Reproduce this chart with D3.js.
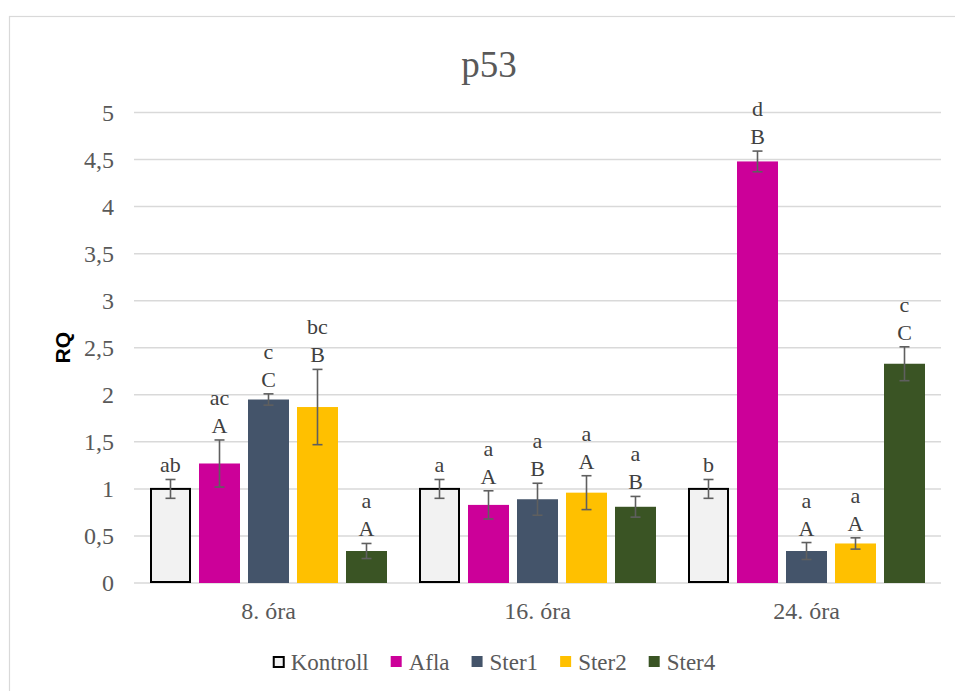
<!DOCTYPE html>
<html lang="en">
<head>
<meta charset="UTF-8">
<title>p53</title>
<style>
    body, html { margin: 0; padding: 0; background: #ffffff; }
    svg { display: block; font-family: "Liberation Serif", "Times New Roman", serif; }
    .grid line { stroke: #d9d9d9; stroke-width: 1.5px; }
    .tick-label { fill: #595959; font-size: 24px; }
    .cat-label { fill: #595959; font-size: 24px; }
    .bar-label { fill: #404040; font-size: 22px; text-anchor: middle; }
    .err { stroke: #5f5f5f; stroke-width: 1.6px; }
    .legend text { fill: #595959; font-size: 23px; }
</style>
</head>
<body>
<div id="chart"></div>
<script src="https://d3js.org/d3.v7.min.js"></script>
<script>
// --- data ---
const categories = ["8. óra", "16. óra", "24. óra"];
const seriesNames = ["Kontroll", "Afla", "Ster1", "Ster2", "Ster4"];
const seriesColors = ["#f2f2f2", "#cc0099", "#44546a", "#ffc000", "#3a5424"];

const kontrollRQ = [1.00, 1.00, 1.00];
const aflaRQ     = [1.27, 0.83, 4.48];
const ster1RQ    = [1.95, 0.89, 0.34];
const ster2RQ    = [1.87, 0.96, 0.42];
const ster4RQ    = [0.34, 0.81, 2.33];

const kontrollErr = [0.10, 0.10, 0.10];
const aflaErr     = [0.25, 0.15, 0.11];
const ster1Err    = [0.06, 0.17, 0.09];
const ster2Err    = [0.40, 0.18, 0.06];
const ster4Err    = [0.08, 0.11, 0.18];

const kontrollLower = ["ab", "a", "b"];
const aflaLower     = ["ac", "a", "d"];
const ster1Lower    = ["c", "a", "a"];
const ster2Lower    = ["bc", "a", "a"];
const ster4Lower    = ["a", "a", "c"];

const kontrollUpper = ["", "", ""];
const aflaUpper     = ["A", "A", "B"];
const ster1Upper    = ["C", "B", "A"];
const ster2Upper    = ["B", "A", "A"];
const ster4Upper    = ["A", "B", "C"];

const yTicks = [0, 0.5, 1, 1.5, 2, 2.5, 3, 3.5, 4, 4.5, 5];

// build rows for drawing
const allRQ = [kontrollRQ, aflaRQ, ster1RQ, ster2RQ, ster4RQ];
const allErr = [kontrollErr, aflaErr, ster1Err, ster2Err, ster4Err];
const allLower = [kontrollLower, aflaLower, ster1Lower, ster2Lower, ster4Lower];
const allUpper = [kontrollUpper, aflaUpper, ster1Upper, ster2Upper, ster4Upper];

const bars = [];
categories.forEach((cat, ci) => {
    seriesNames.forEach((s, si) => {
        bars.push({
            cat: cat, series: s, si: si,
            value: allRQ[si][ci], err: allErr[si][ci],
            lower: allLower[si][ci], upper: allUpper[si][ci]
        });
    });
});

// --- layout ---
const width = 955, height = 691;
const plot = { left: 134, right: 941, top: 112.5, bottom: 583 };

const svg = d3.select("#chart").append("svg")
    .attr("width", width)
    .attr("height", height);

// chart border
svg.append("rect")
    .attr("x", 9.5).attr("y", 16.5)
    .attr("width", 980).attr("height", 700)
    .attr("fill", "#ffffff")
    .attr("stroke", "#d9d9d9")
    .attr("stroke-width", 1.2);

const x0 = d3.scaleBand()
    .domain(categories)
    .range([plot.left, plot.right])
    .padding(0);

const x1 = d3.scaleBand()
    .domain(seriesNames)
    .range([12, x0.bandwidth() - 12])
    .paddingInner(8 / 49)
    .paddingOuter(4 / 49);

const y = d3.scaleLinear()
    .domain([0, 5])
    .range([plot.bottom, plot.top]);

const color = d3.scaleOrdinal().domain(seriesNames).range(seriesColors);
const fmt = v => String(v).replace(".", ",");

// gridlines
svg.append("g").attr("class", "grid")
    .selectAll("line")
    .data(yTicks)
    .join("line")
    .attr("x1", plot.left).attr("x2", plot.right)
    .attr("y1", d => y(d)).attr("y2", d => y(d));

// y tick labels
svg.append("g")
    .selectAll("text")
    .data(yTicks)
    .join("text")
    .attr("class", "tick-label")
    .attr("x", 114)
    .attr("y", d => y(d))
    .attr("dy", "0.34em")
    .attr("text-anchor", "end")
    .text(fmt);

// y axis title
svg.append("text")
    .attr("transform", `translate(70, ${(plot.top + plot.bottom) / 2}) rotate(-90)`)
    .attr("text-anchor", "middle")
    .style("font-family", "'Liberation Sans', Arial, sans-serif")
    .style("font-weight", "bold")
    .style("font-size", "21px")
    .attr("fill", "#000000")
    .text("RQ");

// category labels
svg.append("g")
    .selectAll("text")
    .data(categories)
    .join("text")
    .attr("class", "cat-label")
    .attr("x", d => x0(d) + x0.bandwidth() / 2)
    .attr("y", 619)
    .attr("text-anchor", "middle")
    .text(d => d);

// bars
const bx = d => x0(d.cat) + x1(d.series);

svg.append("g")
    .selectAll("rect")
    .data(bars)
    .join("rect")
    .attr("x", d => bx(d) + (d.si === 0 ? 1 : 0))
    .attr("y", d => y(d.value))
    .attr("width", d => x1.bandwidth() - (d.si === 0 ? 2 : 0))
    .attr("height", d => y(0) - y(d.value) - (d.si === 0 ? 1 : 0))
    .attr("fill", d => color(d.series))
    .attr("stroke", d => d.si === 0 ? "#000000" : "none")
    .attr("stroke-width", 2);

// error bars
const errG = svg.append("g");
bars.forEach(d => {
    const cx = bx(d) + x1.bandwidth() / 2;
    const y1 = y(d.value + d.err), y2 = y(d.value - d.err);
    errG.append("line").attr("class", "err")
        .attr("x1", cx).attr("x2", cx).attr("y1", y1).attr("y2", y2);
    errG.append("line").attr("class", "err")
        .attr("x1", cx - 5).attr("x2", cx + 5).attr("y1", y1).attr("y2", y1);
    errG.append("line").attr("class", "err")
        .attr("x1", cx - 5).attr("x2", cx + 5).attr("y1", y2).attr("y2", y2);
});

// significance letters
const labG = svg.append("g");
bars.forEach(d => {
    const cx = bx(d) + x1.bandwidth() / 2;
    let base = y(d.value + d.err) - 7;
    if (d.upper) {
        labG.append("text").attr("class", "bar-label")
            .attr("x", cx).attr("y", base).text(d.upper);
        base -= 28;
    }
    labG.append("text").attr("class", "bar-label")
        .attr("x", cx).attr("y", base).text(d.lower);
});

// title
svg.append("text")
    .attr("x", 489)
    .attr("y", 77)
    .attr("text-anchor", "middle")
    .attr("fill", "#595959")
    .style("font-size", "37px")
    .text("p53");

// legend
const legend = svg.append("g").attr("class", "legend");
let lx = 0;
seriesNames.forEach((s, i) => {
    const g = legend.append("g").attr("transform", `translate(${lx},0)`);
    g.append("rect")
        .attr("x", i === 0 ? 1 : 0).attr("y", -6 + (i === 0 ? 1 : 0))
        .attr("width", i === 0 ? 10 : 11).attr("height", i === 0 ? 10 : 11)
        .attr("fill", color(s))
        .attr("stroke", i === 0 ? "#000000" : "none")
        .attr("stroke-width", 2);
    const t = g.append("text").attr("x", 18).attr("y", 8).text(s);
    lx += 18 + t.node().getComputedTextLength() + 22;
});
const legendW = lx - 22;
legend.attr("transform", `translate(${494 - legendW / 2}, 662)`);
</script>
</body>
</html>
